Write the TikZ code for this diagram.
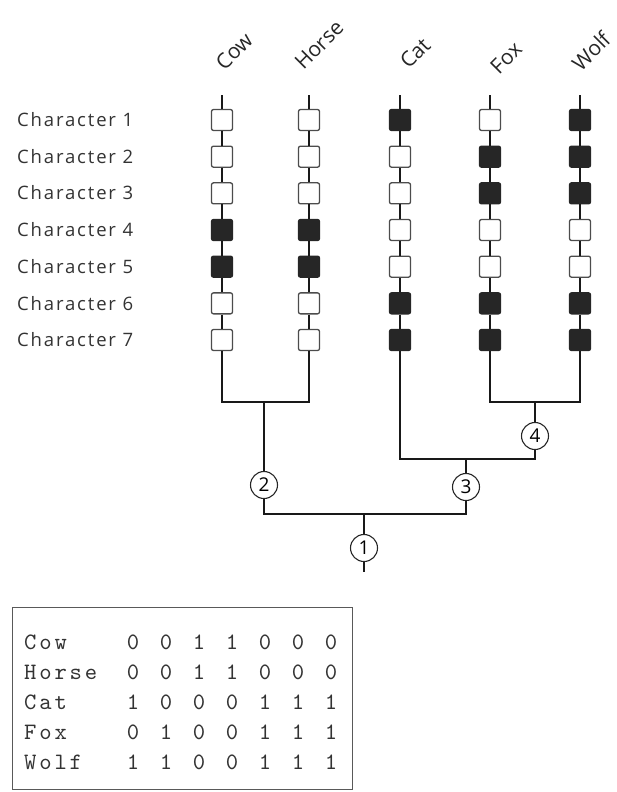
\documentclass[tikz,border=0pt]{standalone}
\usepackage{fontspec}
\setmainfont{Open Sans}
\newfontfamily\lblfont[LetterSpace=10]{Open Sans}
\newfontfamily\taxfont{Open Sans}
\newfontfamily\monofont[LetterSpace=12]{lmmono10-regular.otf}
\begin{document}
\begin{tikzpicture}[x=1pt,y=-1pt,
  charlbl/.style={font=\lblfont\fontsize{18.5}{20}\selectfont, text=black!80, inner sep=0pt, text height=13.3pt, text depth=0pt},
  taxon/.style={font=\taxfont\fontsize{21}{23}\selectfont, text=black!85, inner sep=0pt, rotate=45},
  cell/.style={draw=black!70, line width=1.3pt, rounded corners=2pt, minimum width=21pt, minimum height=21pt, inner sep=0pt},
  state0/.style={fill=white},
  state1/.style={fill=black!85, draw=black!85},
  branch/.style={draw=black!90, line width=1.8pt},
  clade/.style={circle, draw=black!85, line width=1.1pt, fill=white, minimum size=27pt, inner sep=0pt, font=\fontsize{19}{20}\selectfont},
  mono/.style={font=\monofont\fontsize{23.5}{25}\selectfont, text=black!80, inner sep=0pt, text height=14pt, text depth=0pt},
  tableframe/.style={draw=black!65, line width=1.1pt, inner sep=0pt}
]
\useasboundingbox (0,0) rectangle (617,792);

% character labels
\foreach \i in {1,...,7}
  \node[charlbl, anchor=west] (ch\i) at (17, {120+36.67*(\i-1)}) {Character \i};

% taxon columns
\foreach \col/\xx/\pat in {
  cow/222/{0,0,0,1,1,0,0},
  horse/309/{0,0,0,1,1,0,0},
  cat/400/{1,0,0,0,0,1,1},
  fox/490/{0,1,1,0,0,1,1},
  wolf/580/{1,1,1,0,0,1,1}}{
  \coordinate (\col top) at (\xx,95);
  \foreach \v [count=\r] in \pat
    \node[cell, state\v] (\col\r) at (\xx, {120+36.67*(\r-1)}) {};
  \draw[branch, line width=1.6pt] (\col top) -- (\col1);
  \foreach \r [remember=\r as \p (initially 1)] in {2,...,7}
    \draw[branch, line width=1.6pt] (\col\p) -- (\col\r);
}
\node[taxon] (lcow) at (234,51) {Cow};
\node[taxon] (lhorse) at (319,45) {Horse};
\node[taxon] (lcat) at (415,53) {Cat};
\node[taxon] (lfox) at (506,58) {Fox};
\node[taxon] (lwolf) at (591,51) {Wolf};

% tree
\coordinate (jch) at (264,402);
\coordinate (jfw) at (535,402);
\coordinate (jcat) at (466,459);
\coordinate (jroot) at (364,514);
\coordinate (rootend) at (364,572);
\node[clade] (n2) at (264,485) {2};
\node[clade] (n3) at (466,487) {3};
\node[clade] (n4) at (535,436) {4};
\node[clade] (n1) at (364,548) {1};

\draw[branch] (cow7) |- (jch) -| (horse7);
\draw[branch] (jch) -- (n2);
\draw[branch] (fox7) |- (jfw) -| (wolf7);
\draw[branch] (jfw) -- (n4);
\draw[branch] (cat7) |- (jcat) -| (n4);
\draw[branch] (jcat) -- (n3);
\draw[branch] (n2) |- (jroot) -| (n3);
\draw[branch] (jroot) -- (n1);
\draw[branch] (n1) -- (rootend);

% data table
\node[tableframe, draw, anchor=north west, minimum width=340pt, minimum height=182pt] (tbl) at (12,607) {};
\foreach \nm/\vals [count=\r] in {
  Cow/{0,0,1,1,0,0,0},
  Horse/{0,0,1,1,0,0,0},
  Cat/{1,0,0,0,1,1,1},
  Fox/{0,1,0,0,1,1,1},
  Wolf/{1,1,0,0,1,1,1}}{
  \node[mono, anchor=west] (tn\r) at (24, {642+30*(\r-1)}) {\nm};
  \foreach \v [count=\c] in \vals
    \node[mono] (tv\r-\c) at ({133+33*(\c-1)}, {642+30*(\r-1)}) {\v};
}
\end{tikzpicture}
\end{document}
